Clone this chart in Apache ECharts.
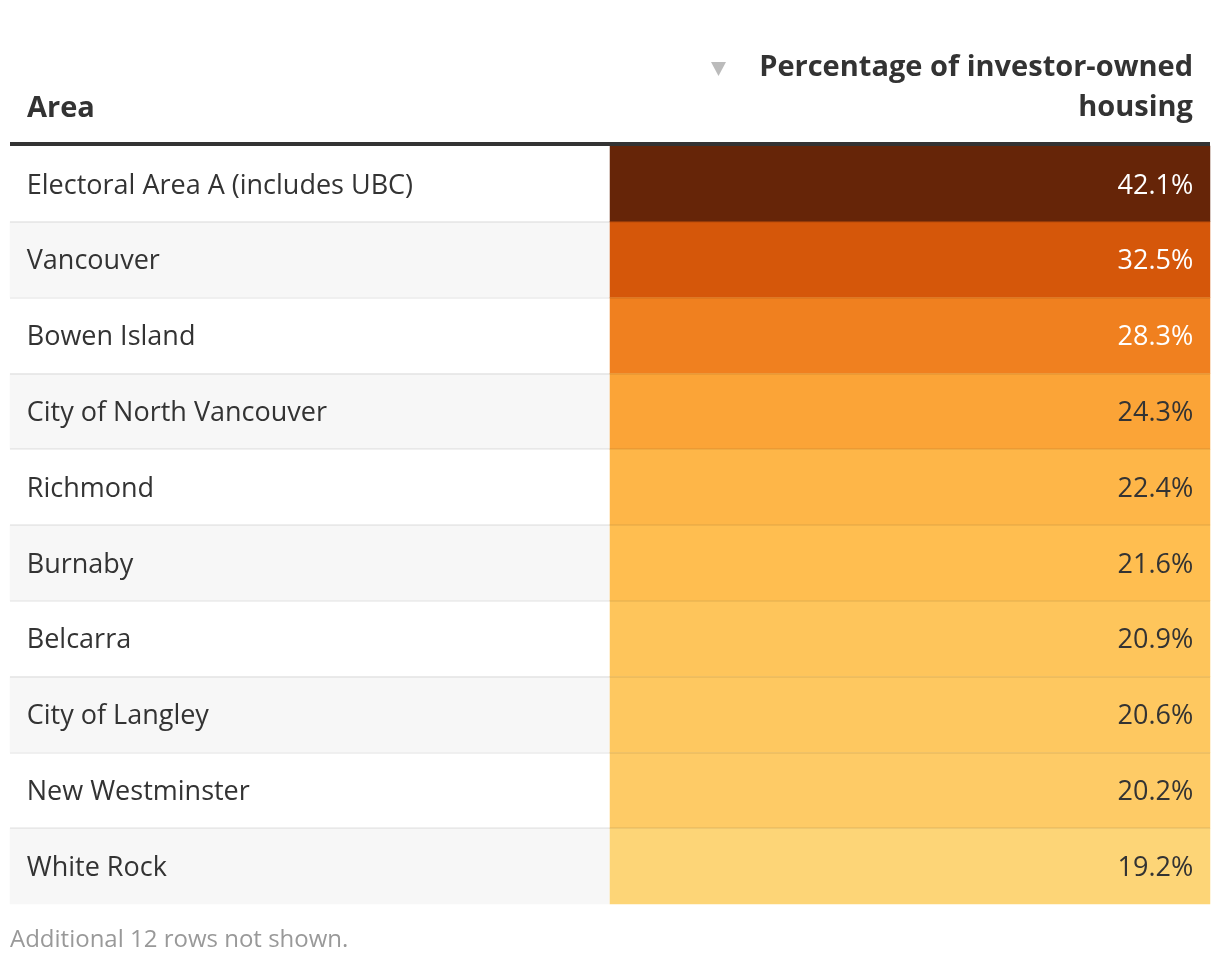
<!DOCTYPE html>
<html><head><meta charset="utf-8">
<script src="https://cdn.jsdelivr.net/npm/echarts@6/dist/echarts.min.js"></script>
<style>html,body{margin:0;padding:0;background:#fff}#c{width:1220px;height:964px}</style>
</head><body><div id="c"></div>
<script>
const areas = ['Electoral Area A (includes UBC)', 'Vancouver', 'Bowen Island', 'City of North Vancouver', 'Richmond', 'Burnaby', 'Belcarra', 'City of Langley', 'New Westminster', 'White Rock'];
const shares = [42.1, 32.5, 28.3, 24.3, 22.4, 21.6, 20.9, 20.6, 20.2, 19.2];
const columns = ['Area', 'Percentage of investor-owned housing'];
const headerLines = ['Percentage of investor-owned', 'housing'];
const footnote = 'Additional 12 rows not shown.';

const FONT = '"Open Sans", sans-serif';
const ramp = ['#fdd577', '#ffbf51', '#fca93a', '#f6932c', '#f07f1f', '#e36a13', '#d25308', '#b44608', '#963a08', '#7e3008', '#662508'];

const chart = echarts.init(document.getElementById('c'), null, {renderer: 'canvas'});

const areaCells = areas.map((a, i) => ({
  value: [0, i, 1],
  itemStyle: {color: i % 2 ? '#f7f7f7' : '#ffffff'}
}));
const shareCells = shares.map((v, i) => ({
  value: [1, i, v],
  label: {color: v >= 26 ? '#ffffff' : '#333333'}
}));

chart.setOption({
  animation: false,
  backgroundColor: '#ffffff',
  grid: {left: 10, right: 10, top: 146, bottom: 60},
  xAxis: {
    type: 'category', data: columns, show: false
  },
  yAxis: {
    type: 'category', data: areas, inverse: true, z: 5,
    axisLine: {show: false}, axisTick: {show: false}, axisLabel: {show: false},
    splitLine: {show: true, showMinLine: false, showMaxLine: false, lineStyle: {color: 'rgba(0,0,0,0.06)', width: 2}}
  },
  visualMap: {
    show: false, type: 'continuous', seriesIndex: 1,
    min: Math.min(...shares), max: Math.max(...shares),
    inRange: {color: ramp}
  },
  series: [
    {
      type: 'heatmap', data: areaCells, z: 2,
      label: {
        show: true, position: 'insideLeft', distance: 17, offset: [0, 2],
        fontFamily: FONT, fontSize: 27, color: '#333333',
        formatter: p => areas[p.data.value[1]]
      },
      emphasis: {disabled: true}
    },
    {
      type: 'heatmap', data: shareCells, z: 2,
      label: {
        show: true, position: 'insideRight', distance: 17, offset: [0, 2],
        fontFamily: FONT, fontSize: 27,
        formatter: p => p.data.value[2].toFixed(1) + '%'
      },
      emphasis: {disabled: true}
    }
  ],
  graphic: [
    {type: 'rect', shape: {x: 10, y: 142, width: 1200, height: 4}, style: {fill: '#333333'}, z: 10},
    {type: 'text', left: 27, top: 94, style: {text: columns[0], font: 'bold 29px ' + FONT, fill: '#333333'}},
    {type: 'text', right: 27, top: 53, style: {text: headerLines[0], font: 'bold 29px ' + FONT, fill: '#333333', align: 'right'}},
    {type: 'text', right: 27, top: 93, style: {text: headerLines[1], font: 'bold 29px ' + FONT, fill: '#333333', align: 'right'}},
    {type: 'polygon', shape: {points: [[711, 62], [726, 62], [718.5, 76]]}, style: {fill: '#bbbbbb'}},
    {type: 'text', left: 10, top: 928, style: {text: footnote, font: '24px ' + FONT, fill: '#999999'}}
  ]
});
</script></body></html>
